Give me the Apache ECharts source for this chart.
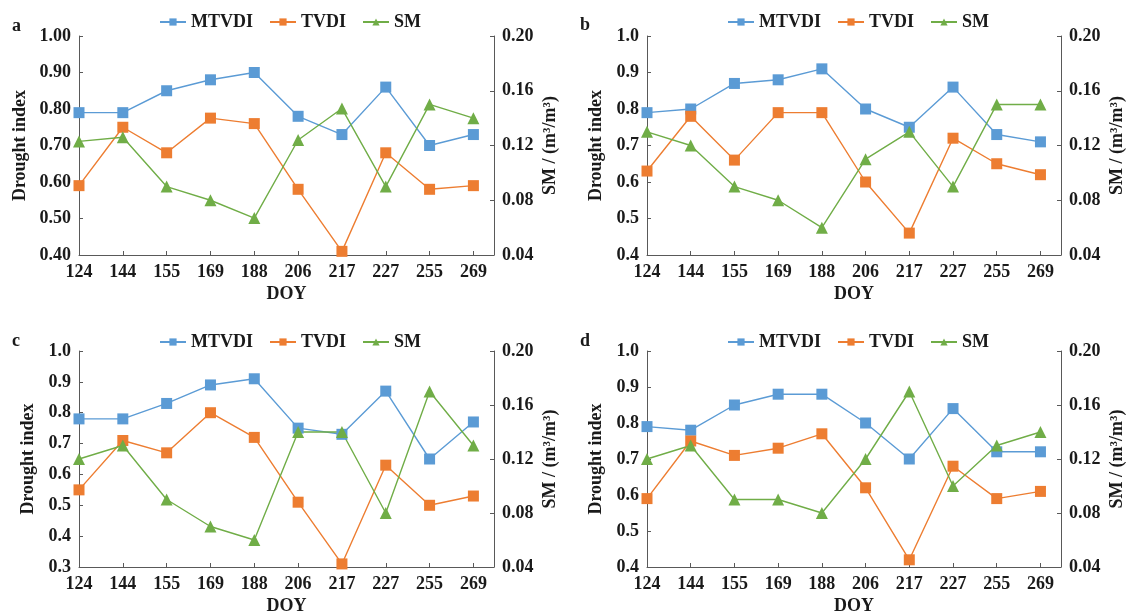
<!DOCTYPE html>
<html>
<head>
<meta charset="utf-8">
<script src="https://cdn.jsdelivr.net/npm/echarts@6/dist/echarts.min.js"></script>
<style>
  html, body { margin: 0; padding: 0; background: #fff; }
  #chart { width: 1129px; height: 616px; }
</style>
</head>
<body>
<div id="chart"></div>
<script>
// day of year on the x axis
const doy = ['124', '144', '155', '169', '188', '206', '217', '227', '255', '269']

// panel a
const mtvdiA = [0.79, 0.79, 0.85, 0.88, 0.90, 0.78, 0.73, 0.86, 0.70, 0.73]
const tvdiA = [0.59, 0.75, 0.68, 0.775, 0.76, 0.58, 0.41, 0.68, 0.58, 0.59]
const smA = [0.123, 0.126, 0.090, 0.080, 0.067, 0.124, 0.147, 0.090, 0.150, 0.140]
// panel b
const mtvdiB = [0.79, 0.80, 0.87, 0.88, 0.91, 0.80, 0.75, 0.86, 0.73, 0.71]
const tvdiB = [0.63, 0.78, 0.66, 0.79, 0.79, 0.60, 0.46, 0.72, 0.65, 0.62]
const smB = [0.13, 0.12, 0.09, 0.08, 0.06, 0.11, 0.13, 0.09, 0.15, 0.15]
// panel c
const mtvdiC = [0.78, 0.78, 0.83, 0.89, 0.91, 0.75, 0.73, 0.87, 0.65, 0.77]
const tvdiC = [0.55, 0.71, 0.67, 0.80, 0.72, 0.51, 0.31, 0.63, 0.50, 0.53]
const smC = [0.12, 0.13, 0.09, 0.07, 0.06, 0.14, 0.14, 0.08, 0.17, 0.13]
// panel d
const mtvdiD = [0.79, 0.78, 0.85, 0.88, 0.88, 0.80, 0.70, 0.84, 0.72, 0.72]
const tvdiD = [0.59, 0.75, 0.71, 0.73, 0.77, 0.62, 0.42, 0.68, 0.59, 0.61]
const smD = [0.12, 0.13, 0.09, 0.09, 0.08, 0.12, 0.17, 0.10, 0.13, 0.14]

const serif = '"Liberation Serif", "Times New Roman", serif'
const axisColor = '#595959'
const colors = { MTVDI: '#5B9BD5', TVDI: '#ED7D31', SM: '#70AD47' }

// one entry per panel: layout + left axis range
const panels = [
  { tag: 'a', left: 79, top: 36, width: 415, min: 0.4, dec: 2, nameGap: 50, legendTop: 8, tagY: 27,
    mt: mtvdiA, tv: tvdiA, sm: smA },
  { tag: 'b', left: 647, top: 36, width: 414, min: 0.4, dec: 1, nameGap: 42, legendTop: 8, tagY: 26,
    mt: mtvdiB, tv: tvdiB, sm: smB },
  { tag: 'c', left: 79, top: 351, width: 415, min: 0.3, dec: 1, nameGap: 42, legendTop: 328, tagY: 342,
    mt: mtvdiC, tv: tvdiC, sm: smC },
  { tag: 'd', left: 647, top: 351, width: 414, min: 0.4, dec: 1, nameGap: 42, legendTop: 328, tagY: 342,
    mt: mtvdiD, tv: tvdiD, sm: smD }
]

const textBase = { fontFamily: serif, fontWeight: 'bold', fontSize: 18, color: '#1a1a1a' }

const grid = [], xAxis = [], yAxis = [], series = [], legend = [], graphic = []

panels.forEach((p, i) => {
  grid.push({ left: p.left, top: p.top, width: p.width, height: 219 })
  xAxis.push({
    type: 'value',
    gridIndex: i,
    min: 0,
    max: 9.47,
    interval: 1,
    name: 'DOY',
    nameLocation: 'middle',
    nameGap: 30,
    nameTextStyle: textBase,
    splitLine: { show: false },
    axisLine: { lineStyle: { color: axisColor, width: 1 } },
    axisTick: { inside: true, length: 4, lineStyle: { color: axisColor } },
    axisLabel: Object.assign({}, textBase, {
      margin: 8,
      showMaxLabel: false,
      formatter: v => (Number.isInteger(v) && doy[v] !== undefined ? doy[v] : '')
    })
  })
  yAxis.push({
    type: 'value',
    gridIndex: i,
    position: 'left',
    min: p.min,
    max: 1.0,
    interval: 0.1,
    name: 'Drought index',
    nameLocation: 'middle',
    nameRotate: 90,
    nameGap: p.nameGap,
    nameTextStyle: textBase,
    splitLine: { show: false },
    axisLine: { show: true, lineStyle: { color: axisColor, width: 1 } },
    axisTick: { show: true, inside: true, length: 4, lineStyle: { color: axisColor } },
    axisLabel: Object.assign({}, textBase, { margin: 8, formatter: v => v.toFixed(p.dec) })
  })
  yAxis.push({
    type: 'value',
    gridIndex: i,
    position: 'right',
    min: 0.04,
    max: 0.20,
    interval: 0.04,
    name: 'SM / (m³/m³)',
    nameLocation: 'middle',
    nameRotate: 90,
    nameGap: 47,
    nameTextStyle: textBase,
    splitLine: { show: false },
    axisLine: { show: true, lineStyle: { color: axisColor, width: 1 } },
    axisTick: { show: true, inside: true, length: 4, lineStyle: { color: axisColor } },
    axisLabel: Object.assign({}, textBase, { margin: 8, formatter: v => v.toFixed(2) })
  })

  const mk = (name, vals, yIdx, symbol, size) => ({
    name: name,
    type: 'line',
    xAxisIndex: i,
    yAxisIndex: yIdx,
    data: vals.map((v, k) => [k, v]),
    symbol: symbol,
    symbolSize: size,
    showAllSymbol: true,
    animation: false,
    lineStyle: { color: colors[name], width: 1.4 },
    itemStyle: { color: colors[name] }
  })
  series.push(mk('MTVDI', p.mt, i * 2, 'rect', 11))
  series.push(mk('TVDI', p.tv, i * 2, 'rect', 11))
  series.push(mk('SM', p.sm, i * 2 + 1, 'triangle', 12))

  legend.push({
    left: p.left + 75,
    top: p.legendTop,
    itemWidth: 26,
    itemHeight: 9,
    itemGap: 16,
    data: ['MTVDI', 'TVDI', 'SM'],
    textStyle: textBase,
    selectedMode: false
  })

  graphic.push({
    type: 'text',
    left: p.left - 67,
    top: p.tagY - 10,
    style: { text: p.tag, font: 'bold 18px ' + serif, fill: '#1a1a1a' }
  })
})

const chart = echarts.init(document.getElementById('chart'))
chart.setOption({
  animation: false,
  backgroundColor: '#fff',
  grid, xAxis, yAxis, series, legend, graphic
})
</script>
</body>
</html>
